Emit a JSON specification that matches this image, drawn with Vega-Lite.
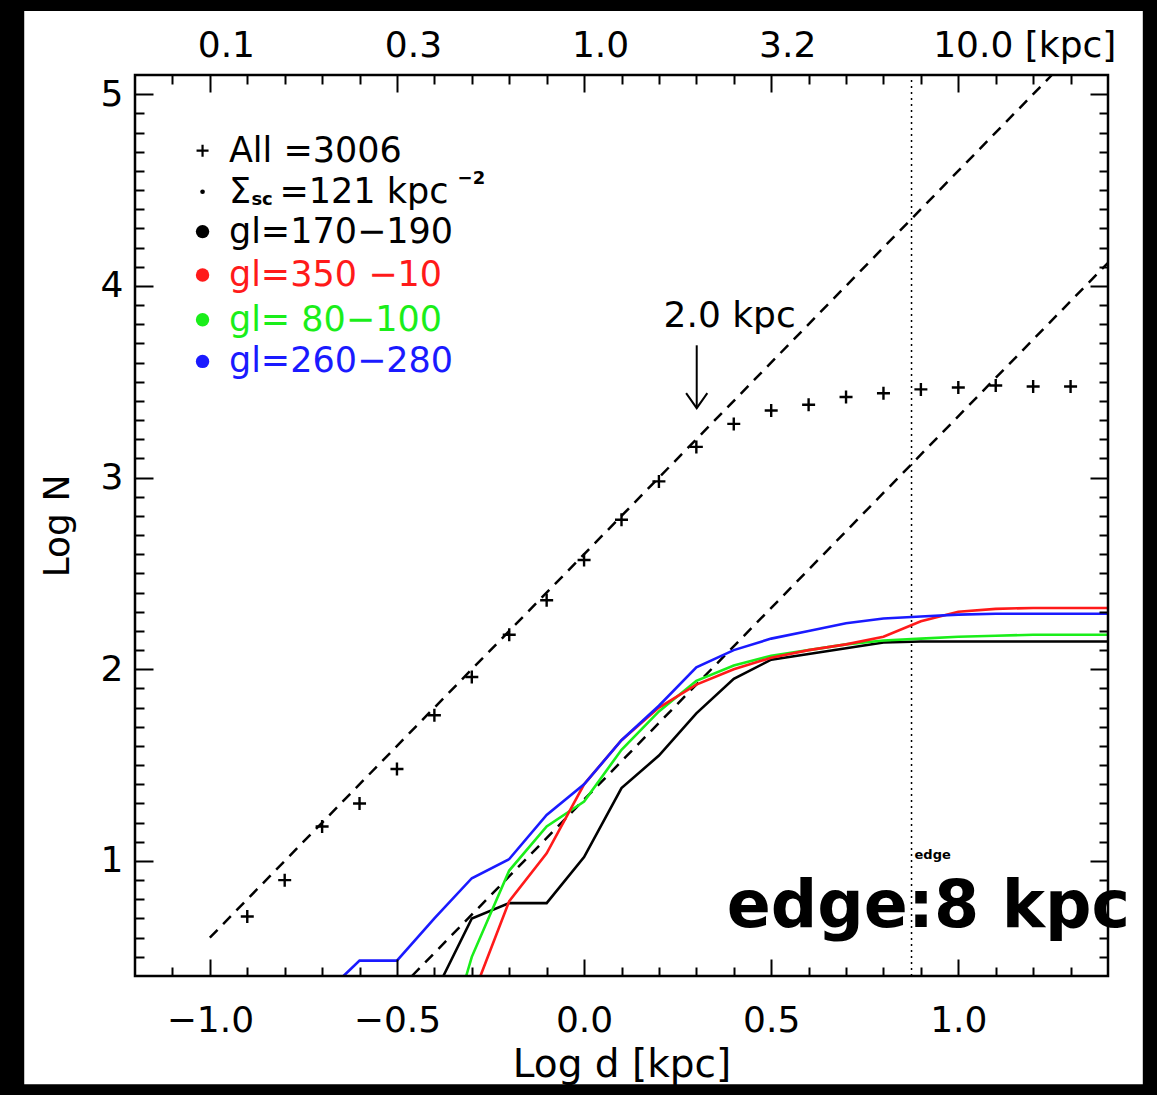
{
  "$schema": "https://vega.github.io/schema/vega-lite/v6.json",
  "width": 973,
  "height": 901,
  "autosize": {"type": "none"},
  "padding": {"left": 135, "top": 75, "right": 49, "bottom": 119},
  "background": "black",
  "config": {"view": {"stroke": null}, "font": "DejaVu Sans"},
  "datasets": {
    "all": [
      {"logd": -0.9, "logN": 0.71}, {"logd": -0.8, "logN": 0.90}, {"logd": -0.7, "logN": 1.18},
      {"logd": -0.6, "logN": 1.30}, {"logd": -0.5, "logN": 1.48}, {"logd": -0.4, "logN": 1.76},
      {"logd": -0.3, "logN": 1.96}, {"logd": -0.2, "logN": 2.18}, {"logd": -0.1, "logN": 2.36},
      {"logd": 0.0, "logN": 2.57}, {"logd": 0.1, "logN": 2.78}, {"logd": 0.2, "logN": 2.98},
      {"logd": 0.3, "logN": 3.16}, {"logd": 0.4, "logN": 3.28}, {"logd": 0.5, "logN": 3.35},
      {"logd": 0.6, "logN": 3.38}, {"logd": 0.7, "logN": 3.42}, {"logd": 0.8, "logN": 3.44},
      {"logd": 0.9, "logN": 3.46}, {"logd": 1.0, "logN": 3.47}, {"logd": 1.1, "logN": 3.48},
      {"logd": 1.2, "logN": 3.475}, {"logd": 1.3, "logN": 3.475}
    ],
    "fits": [
      {"fit": "A", "logd": -1.0, "logN": 0.6}, {"fit": "A", "logd": 1.25, "logN": 5.1},
      {"fit": "B", "logd": -0.46, "logN": 0.4}, {"fit": "B", "logd": 1.4, "logN": 4.12}
    ],
    "curves": [
      {"series": "gl=170−190", "logd": -0.376, "logN": 0.4},
      {"series": "gl=170−190", "logd": -0.3, "logN": 0.70},
      {"series": "gl=170−190", "logd": -0.2, "logN": 0.78},
      {"series": "gl=170−190", "logd": -0.1, "logN": 0.78},
      {"series": "gl=170−190", "logd": 0.0, "logN": 1.02},
      {"series": "gl=170−190", "logd": 0.1, "logN": 1.38},
      {"series": "gl=170−190", "logd": 0.2, "logN": 1.55},
      {"series": "gl=170−190", "logd": 0.3, "logN": 1.77},
      {"series": "gl=170−190", "logd": 0.4, "logN": 1.95},
      {"series": "gl=170−190", "logd": 0.5, "logN": 2.05},
      {"series": "gl=170−190", "logd": 0.6, "logN": 2.08},
      {"series": "gl=170−190", "logd": 0.7, "logN": 2.11},
      {"series": "gl=170−190", "logd": 0.8, "logN": 2.14},
      {"series": "gl=170−190", "logd": 0.9, "logN": 2.145},
      {"series": "gl=170−190", "logd": 1.0, "logN": 2.145},
      {"series": "gl=170−190", "logd": 1.2, "logN": 2.145},
      {"series": "gl=170−190", "logd": 1.4, "logN": 2.145},
      {"series": "gl=  80−100", "logd": -0.315, "logN": 0.4},
      {"series": "gl=  80−100", "logd": -0.3, "logN": 0.50},
      {"series": "gl=  80−100", "logd": -0.2, "logN": 0.95},
      {"series": "gl=  80−100", "logd": -0.1, "logN": 1.18},
      {"series": "gl=  80−100", "logd": 0.0, "logN": 1.31},
      {"series": "gl=  80−100", "logd": 0.1, "logN": 1.58},
      {"series": "gl=  80−100", "logd": 0.2, "logN": 1.78},
      {"series": "gl=  80−100", "logd": 0.3, "logN": 1.94},
      {"series": "gl=  80−100", "logd": 0.4, "logN": 2.02},
      {"series": "gl=  80−100", "logd": 0.5, "logN": 2.07},
      {"series": "gl=  80−100", "logd": 0.6, "logN": 2.10},
      {"series": "gl=  80−100", "logd": 0.7, "logN": 2.13},
      {"series": "gl=  80−100", "logd": 0.8, "logN": 2.15},
      {"series": "gl=  80−100", "logd": 0.9, "logN": 2.16},
      {"series": "gl=  80−100", "logd": 1.0, "logN": 2.17},
      {"series": "gl=  80−100", "logd": 1.1, "logN": 2.175},
      {"series": "gl=  80−100", "logd": 1.2, "logN": 2.18},
      {"series": "gl=  80−100", "logd": 1.4, "logN": 2.18},
      {"series": "gl=350  −10", "logd": -0.277, "logN": 0.4},
      {"series": "gl=350  −10", "logd": -0.2, "logN": 0.79},
      {"series": "gl=350  −10", "logd": -0.1, "logN": 1.04},
      {"series": "gl=350  −10", "logd": 0.0, "logN": 1.40},
      {"series": "gl=350  −10", "logd": 0.1, "logN": 1.63},
      {"series": "gl=350  −10", "logd": 0.2, "logN": 1.80},
      {"series": "gl=350  −10", "logd": 0.3, "logN": 1.92},
      {"series": "gl=350  −10", "logd": 0.4, "logN": 2.00},
      {"series": "gl=350  −10", "logd": 0.5, "logN": 2.06},
      {"series": "gl=350  −10", "logd": 0.6, "logN": 2.10},
      {"series": "gl=350  −10", "logd": 0.7, "logN": 2.13},
      {"series": "gl=350  −10", "logd": 0.8, "logN": 2.17},
      {"series": "gl=350  −10", "logd": 0.9, "logN": 2.25},
      {"series": "gl=350  −10", "logd": 1.0, "logN": 2.30},
      {"series": "gl=350  −10", "logd": 1.1, "logN": 2.315},
      {"series": "gl=350  −10", "logd": 1.2, "logN": 2.32},
      {"series": "gl=350  −10", "logd": 1.4, "logN": 2.32},
      {"series": "gl=260−280", "logd": -0.643, "logN": 0.4},
      {"series": "gl=260−280", "logd": -0.6, "logN": 0.48},
      {"series": "gl=260−280", "logd": -0.5, "logN": 0.48},
      {"series": "gl=260−280", "logd": -0.4, "logN": 0.70},
      {"series": "gl=260−280", "logd": -0.3, "logN": 0.91},
      {"series": "gl=260−280", "logd": -0.2, "logN": 1.01},
      {"series": "gl=260−280", "logd": -0.1, "logN": 1.24},
      {"series": "gl=260−280", "logd": 0.0, "logN": 1.40},
      {"series": "gl=260−280", "logd": 0.1, "logN": 1.63},
      {"series": "gl=260−280", "logd": 0.2, "logN": 1.81},
      {"series": "gl=260−280", "logd": 0.3, "logN": 2.01},
      {"series": "gl=260−280", "logd": 0.4, "logN": 2.10},
      {"series": "gl=260−280", "logd": 0.5, "logN": 2.16},
      {"series": "gl=260−280", "logd": 0.6, "logN": 2.20},
      {"series": "gl=260−280", "logd": 0.7, "logN": 2.24},
      {"series": "gl=260−280", "logd": 0.8, "logN": 2.265},
      {"series": "gl=260−280", "logd": 0.9, "logN": 2.275},
      {"series": "gl=260−280", "logd": 1.0, "logN": 2.285},
      {"series": "gl=260−280", "logd": 1.1, "logN": 2.29},
      {"series": "gl=260−280", "logd": 1.4, "logN": 2.29}
    ],
    "legendMarks": [
      {"series": "All", "kind": "plus", "logd": -1.0195, "logN": 4.705},
      {"series": "Sigma", "kind": "dot", "logd": -1.0195, "logN": 4.491},
      {"series": "gl=170−190", "kind": "disc", "logd": -1.0195, "logN": 4.283},
      {"series": "gl=350  −10", "kind": "disc", "logd": -1.0195, "logN": 4.057},
      {"series": "gl=  80−100", "kind": "disc", "logd": -1.0195, "logN": 3.823},
      {"series": "gl=260−280", "kind": "disc", "logd": -1.0195, "logN": 3.606}
    ],
    "notes": [
      {"text": "All  =3006", "kind": "legend", "series": "All", "logd": -0.949, "logN": 4.705},
      {"text": "Σ", "kind": "legend", "series": "Sigma", "logd": -0.949, "logN": 4.491},
      {"text": "sc", "kind": "script", "series": "Sigma", "logd": -0.889, "logN": 4.45},
      {"text": "=121  kpc", "kind": "legend", "series": "Sigma", "logd": -0.814, "logN": 4.491},
      {"text": "−2", "kind": "script", "series": "Sigma", "logd": -0.338, "logN": 4.56},
      {"text": "gl=170−190", "kind": "legend", "series": "gl=170−190", "logd": -0.949, "logN": 4.283},
      {"text": "gl=350  −10", "kind": "legend", "series": "gl=350  −10", "logd": -0.949, "logN": 4.057},
      {"text": "gl=  80−100", "kind": "legend", "series": "gl=  80−100", "logd": -0.949, "logN": 3.823},
      {"text": "gl=260−280", "kind": "legend", "series": "gl=260−280", "logd": -0.949, "logN": 3.606}
    ]
  },
  "layer": [
    {
      "data": {"values": [{}]},
      "mark": {"type": "rect", "fill": "white", "clip": false},
      "encoding": {
        "x": {"datum": -1.496, "type": "quantitative", "axis": null, "scale": {"domain": [-1.2, 1.4], "nice": false, "zero": false}},
        "x2": {"datum": 1.493},
        "y": {"datum": 5.434, "type": "quantitative", "axis": null, "scale": {"domain": [0.4, 5.1], "nice": false, "zero": false}},
        "y2": {"datum": -0.165}
      }
    },
    {
      "data": {"values": [{}]},
      "mark": {"type": "rule", "stroke": "black", "strokeWidth": 1.5, "strokeDash": [2, 4]},
      "encoding": {
        "x": {"datum": 0.875, "type": "quantitative", "axis": null},
        "y": {"datum": 0.4, "type": "quantitative", "axis": null},
        "y2": {"datum": 5.1}
      }
    },
    {
      "data": {"name": "fits"},
      "mark": {"type": "line", "stroke": "black", "strokeWidth": 2.5, "strokeDash": [11, 8]},
      "encoding": {
        "detail": {"field": "fit"},
        "x": {
          "field": "logd", "type": "quantitative",
          "axis": {
            "orient": "top", "title": null, "domain": false, "grid": false, "zindex": 1,
            "values": [-1.1,-1.0,-0.9,-0.8,-0.7,-0.6,-0.5,-0.4,-0.3,-0.2,-0.1,0,0.1,0.2,0.3,0.4,0.5,0.6,0.7,0.8,0.9,1.0,1.1,1.2,1.3],
            "tickColor": "black", "tickWidth": 2,
            "tickSize": {"condition": {"test": "abs(datum.value*2 - round(datum.value*2)) < 0.001", "value": -17}, "value": -9},
            "labelExpr": "abs(datum.value*2 - round(datum.value*2)) < 0.001 ? (datum.value > 0.9 ? '10.0 [kpc]' : format(pow(10, datum.value), '.1f')) : ''",
            "labelOffset": {"condition": {"test": "datum.value > 0.9", "value": 66}, "value": 16},
            "labelFont": "DejaVu Sans", "labelFontSize": 36, "labelColor": "black", "labelLimit": 0,
            "labelPadding": 28, "labelFlush": false, "labelOverlap": false, "labelBound": false
          }
        },
        "y": {
          "field": "logN", "type": "quantitative",
          "axis": {
            "orient": "right", "title": null, "domain": false, "grid": false, "zindex": 1, "labels": false,
            "values": [0.5,0.6,0.7,0.8,0.9,1,1.1,1.2,1.3,1.4,1.5,1.6,1.7,1.8,1.9,2,2.1,2.2,2.3,2.4,2.5,2.6,2.7,2.8,2.9,3,3.1,3.2,3.3,3.4,3.5,3.6,3.7,3.8,3.9,4,4.1,4.2,4.3,4.4,4.5,4.6,4.7,4.8,4.9,5],
            "tickColor": "black", "tickWidth": 2,
            "tickSize": {"condition": {"test": "abs(datum.value - round(datum.value)) < 0.001", "value": -18}, "value": -9}
          }
        }
      }
    },
    {
      "data": {"name": "curves"},
      "mark": {"type": "line", "strokeWidth": 2.6},
      "encoding": {
        "x": {"field": "logd", "type": "quantitative", "axis": null},
        "y": {"field": "logN", "type": "quantitative", "axis": null},
        "color": {
          "field": "series", "type": "nominal", "legend": null,
          "scale": {
            "domain": ["All", "Sigma", "gl=170−190", "gl=350  −10", "gl=  80−100", "gl=260−280"],
            "range": ["#000000", "#000000", "#000000", "#ff1a1a", "#1aee1a", "#1a1aff"]
          }
        },
        "order": {"field": "logd", "type": "quantitative"}
      }
    },
    {
      "data": {"name": "all"},
      "mark": {"type": "point", "shape": "M-1,0H1M0,-1V1", "filled": false, "stroke": "black", "strokeWidth": 2.4, "size": 169, "opacity": 1},
      "encoding": {
        "x": {
          "field": "logd", "type": "quantitative",
          "axis": {
            "orient": "bottom", "title": "Log d [kpc]", "domain": false, "grid": false, "zindex": 1,
            "values": [-1.1,-1.0,-0.9,-0.8,-0.7,-0.6,-0.5,-0.4,-0.3,-0.2,-0.1,0,0.1,0.2,0.3,0.4,0.5,0.6,0.7,0.8,0.9,1.0,1.1,1.2,1.3],
            "tickColor": "black", "tickWidth": 2,
            "tickSize": {"condition": {"test": "abs(datum.value*2 - round(datum.value*2)) < 0.001", "value": -17}, "value": -9},
            "labelExpr": "abs(datum.value*2 - round(datum.value*2)) < 0.001 ? format(datum.value, '.1f') : ''",
            "labelFont": "DejaVu Sans", "labelFontSize": 36, "labelColor": "black",
            "labelPadding": 44, "labelFlush": false, "labelOverlap": false, "labelBound": false,
            "titleFont": "DejaVu Sans", "titleFontSize": 39, "titleFontWeight": "normal", "titleColor": "black", "titlePadding": -1
          }
        },
        "y": {
          "field": "logN", "type": "quantitative",
          "axis": {
            "orient": "left", "title": "Log N", "domain": false, "grid": false, "zindex": 1,
            "values": [0.5,0.6,0.7,0.8,0.9,1,1.1,1.2,1.3,1.4,1.5,1.6,1.7,1.8,1.9,2,2.1,2.2,2.3,2.4,2.5,2.6,2.7,2.8,2.9,3,3.1,3.2,3.3,3.4,3.5,3.6,3.7,3.8,3.9,4,4.1,4.2,4.3,4.4,4.5,4.6,4.7,4.8,4.9,5],
            "tickColor": "black", "tickWidth": 2,
            "tickSize": {"condition": {"test": "abs(datum.value - round(datum.value)) < 0.001", "value": -18}, "value": -9},
            "labelExpr": "abs(datum.value - round(datum.value)) < 0.001 ? format(datum.value, 'd') : ''",
            "labelFont": "DejaVu Sans", "labelFontSize": 36, "labelColor": "black",
            "labelPadding": 30, "labelFlush": false, "labelOverlap": false, "labelBound": false,
            "titleFont": "DejaVu Sans", "titleFontSize": 36, "titleFontWeight": "normal", "titleColor": "black", "titlePadding": 24
          }
        }
      }
    },
    {
      "data": {"name": "legendMarks"},
      "transform": [{"filter": "datum.kind == 'plus'"}],
      "mark": {"type": "point", "shape": "M-1,0H1M0,-1V1", "filled": false, "stroke": "black", "strokeWidth": 2.2, "size": 144, "opacity": 1},
      "encoding": {
        "x": {"field": "logd", "type": "quantitative", "axis": null},
        "y": {"field": "logN", "type": "quantitative", "axis": null}
      }
    },
    {
      "data": {"name": "legendMarks"},
      "transform": [{"filter": "datum.kind == 'dot'"}],
      "mark": {"type": "circle", "size": 22, "opacity": 1},
      "encoding": {
        "x": {"field": "logd", "type": "quantitative", "axis": null},
        "y": {"field": "logN", "type": "quantitative", "axis": null},
        "color": {"field": "series", "type": "nominal", "legend": null}
      }
    },
    {
      "data": {"name": "legendMarks"},
      "transform": [{"filter": "datum.kind == 'disc'"}],
      "mark": {"type": "circle", "size": 180, "opacity": 1},
      "encoding": {
        "x": {"field": "logd", "type": "quantitative", "axis": null},
        "y": {"field": "logN", "type": "quantitative", "axis": null},
        "color": {"field": "series", "type": "nominal", "legend": null}
      }
    },
    {
      "data": {"name": "notes"},
      "transform": [{"filter": "datum.kind == 'legend'"}],
      "mark": {"type": "text", "align": "left", "baseline": "middle", "font": "DejaVu Sans", "fontSize": 35},
      "encoding": {
        "x": {"field": "logd", "type": "quantitative", "axis": null},
        "y": {"field": "logN", "type": "quantitative", "axis": null},
        "text": {"field": "text"},
        "color": {"field": "series", "type": "nominal", "legend": null}
      }
    },
    {
      "data": {"name": "notes"},
      "transform": [{"filter": "datum.kind == 'script'"}],
      "mark": {"type": "text", "align": "left", "baseline": "middle", "font": "DejaVu Sans", "fontSize": 18, "fontWeight": "bold"},
      "encoding": {
        "x": {"field": "logd", "type": "quantitative", "axis": null},
        "y": {"field": "logN", "type": "quantitative", "axis": null},
        "text": {"field": "text"},
        "color": {"field": "series", "type": "nominal", "legend": null}
      }
    },
    {
      "data": {"values": [{"logd": 0.301, "top": 3.69, "tip": 3.362}]},
      "mark": {"type": "rule", "stroke": "black", "strokeWidth": 2},
      "encoding": {
        "x": {"field": "logd", "type": "quantitative", "axis": null},
        "y": {"field": "top", "type": "quantitative", "axis": null},
        "y2": {"field": "tip"}
      }
    },
    {
      "data": {"values": [{"logd": 0.301, "tip": 3.362}]},
      "mark": {"type": "point", "shape": "M-1,-1.42L0,0L1,-1.42", "filled": false, "stroke": "black", "strokeWidth": 2, "size": 449, "opacity": 1},
      "encoding": {
        "x": {"field": "logd", "type": "quantitative", "axis": null},
        "y": {"field": "tip", "type": "quantitative", "axis": null}
      }
    },
    {
      "data": {"values": [{"logd": 0.389, "logN": 3.845, "text": "2.0 kpc"}]},
      "mark": {"type": "text", "align": "center", "baseline": "middle", "font": "DejaVu Sans", "fontSize": 36, "color": "black"},
      "encoding": {
        "x": {"field": "logd", "type": "quantitative", "axis": null},
        "y": {"field": "logN", "type": "quantitative", "axis": null},
        "text": {"field": "text"}
      }
    },
    {
      "data": {"values": [{"logd": 0.883, "logN": 1.033, "text": "edge"}]},
      "mark": {"type": "text", "align": "left", "baseline": "middle", "font": "DejaVu Sans", "fontSize": 13, "fontWeight": "bold", "color": "black"},
      "encoding": {
        "x": {"field": "logd", "type": "quantitative", "axis": null},
        "y": {"field": "logN", "type": "quantitative", "axis": null},
        "text": {"field": "text"}
      }
    },
    {
      "data": {"values": [{}]},
      "mark": {"type": "rect", "fill": "white", "fillOpacity": 0, "stroke": "black", "strokeWidth": 2.5},
      "encoding": {
        "x": {"datum": -1.2, "type": "quantitative", "axis": null},
        "x2": {"datum": 1.4},
        "y": {"datum": 0.4, "type": "quantitative", "axis": null},
        "y2": {"datum": 5.1}
      }
    },
    {
      "data": {"values": [{"logd": 0.381, "logN": 0.653, "text": "edge:8 kpc"}]},
      "mark": {"type": "text", "align": "left", "baseline": "alphabetic", "font": "DejaVu Sans", "fontSize": 65, "fontWeight": "bold", "color": "black"},
      "encoding": {
        "x": {"field": "logd", "type": "quantitative", "axis": null},
        "y": {"field": "logN", "type": "quantitative", "axis": null},
        "text": {"field": "text"}
      }
    }
  ],
  "resolve": {"axis": {"x": "independent", "y": "independent"}}
}
